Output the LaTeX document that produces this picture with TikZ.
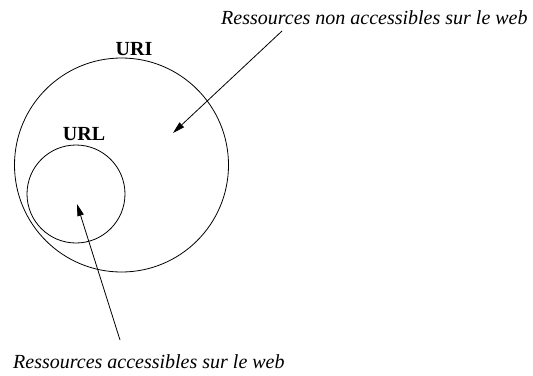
\documentclass[tikz,border=0pt]{standalone}
\usepackage{fontspec}
\setmainfont{Liberation Serif}
\usetikzlibrary{arrows.meta}
\begin{document}
\begin{tikzpicture}[x=1pt,y=-1pt,
  set/.style={draw,circle,line width=0.8pt,inner sep=0pt},
  lbl/.style={inner sep=0pt,anchor=base,font=\fontsize{20}{24}\selectfont\bfseries},
  note/.style={inner sep=0pt,anchor=base west,font=\fontsize{20}{24}\selectfont\itshape},
  pointer/.style={line width=0.8pt,-{Triangle[length=12pt,width=6.5pt]}}]
  \useasboundingbox (0,0) rectangle (533,375);
  % sets
  \node[set,minimum size=214pt] (uriset) at (121.5,165) {};
  \node[set,minimum size=98pt] (urlset) at (76,194) {};
  \node[lbl] (uri) at (134,55) {URI};
  \node[lbl] (url) at (84,140) {URL};
  % notes
  \node[note] (nonweb) at (221,24) {Ressources non accessibles sur le web};
  \node[note] (web) at (13,368) {Ressources accessibles sur le web};
  % pointers
  \coordinate (nonwebfrom) at (282,31);
  \coordinate (nonwebto) at (173,133);
  \coordinate (webfrom) at (120,340);
  \coordinate (webto) at (77,204);
  \draw[pointer] (nonwebfrom) -- (nonwebto);
  \draw[pointer] (webfrom) -- (webto);
\end{tikzpicture}
\end{document}
